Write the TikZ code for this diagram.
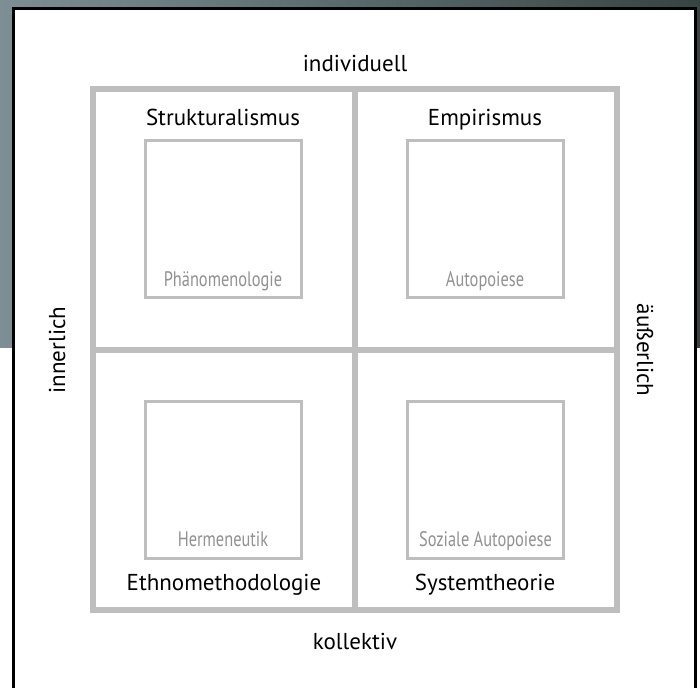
\documentclass[tikz,border=0pt]{standalone}
\usepackage{fontspec}
\setmainfont{PT Sans}
\newfontfamily\schmal[FakeStretch=0.78]{PT Sans}
\usepackage{tikz}
\usepackage{xcolor}
\usetikzlibrary{positioning}
\definecolor{rahmengrau}{RGB}{190,190,190}
\definecolor{textgrau}{RGB}{145,145,145}
\definecolor{hgLinks}{RGB}{125,143,148}
\definecolor{hgRechts}{RGB}{55,68,66}
\tikzset{
Quadrant/.style={
 draw=rahmengrau,
 line width=6,
 minimum width=262,
 minimum height=260.5,
 inner sep=0pt
 },
Kasten/.style={
 draw=rahmengrau,
 line width=3,
 minimum width=156,
 minimum height=157,
 inner sep=0pt
 },
Haupttext/.style={
 font=\fontsize{23}{26}\selectfont,
 inner sep=0pt
 },
Kastentext/.style={
 font=\schmal\fontsize{21}{24}\selectfont,
 text=textgrau,
 anchor=base,
 inner sep=0pt
 }
}

\begin{document}
\begin{tikzpicture}[x=1pt,y=1pt]
\useasboundingbox (0,0) rectangle (700,687);
\shade[left color=hgLinks,right color=hgRechts] (0,339) rectangle (700,687);
\fill[white] (13.5,0) rectangle (695.5,678);
\draw[line width=3] (13.5,-5) |- (695.5,678) -- (695.5,-5);
\node[Quadrant] (qlo) at (224,467.25) {};
\node[Quadrant] (qro) at (486,467.25) {};
\node[Quadrant] (qlu) at (224,206.75) {};
\node[Quadrant] (qru) at (486,206.75) {};
\node[Kasten] (phaeno) at (223,467.5) {};
\node[Kasten] (auto) at (485,467.5) {};
\node[Kasten] (herm) at (223,207) {};
\node[Kasten] (sozauto) at (485.5,207) {};
\node[Kastentext] at ([yshift=13pt]phaeno.south) {Phänomenologie};
\node[Kastentext] at ([yshift=13pt]auto.south) {Autopoiese};
\node[Kastentext] at ([yshift=13pt]herm.south) {Hermeneutik};
\node[Kastentext] at ([yshift=13pt]sozauto.south) {Soziale Autopoiese};
\node[Haupttext,anchor=base] (struk) at (223,561) {Strukturalismus};
\node[Haupttext,anchor=base] (empi) at (485,561) {Empirismus};
\node[Haupttext,anchor=base] (ethno) at (224,96) {Ethnomethodologie};
\node[Haupttext,anchor=base] (systh) at (485,96) {Systemtheorie};
\node[Haupttext,anchor=base] (indiv) at (355,615) {individuell};
\node[Haupttext,anchor=base] (kollek) at (355,38) {kollektiv};
\node[Haupttext,rotate=90] (inner) at (57,337) {innerlich};
\node[Haupttext,rotate=-90] (aeuss) at (645,337) {äußerlich};
\end{tikzpicture}
\end{document}
